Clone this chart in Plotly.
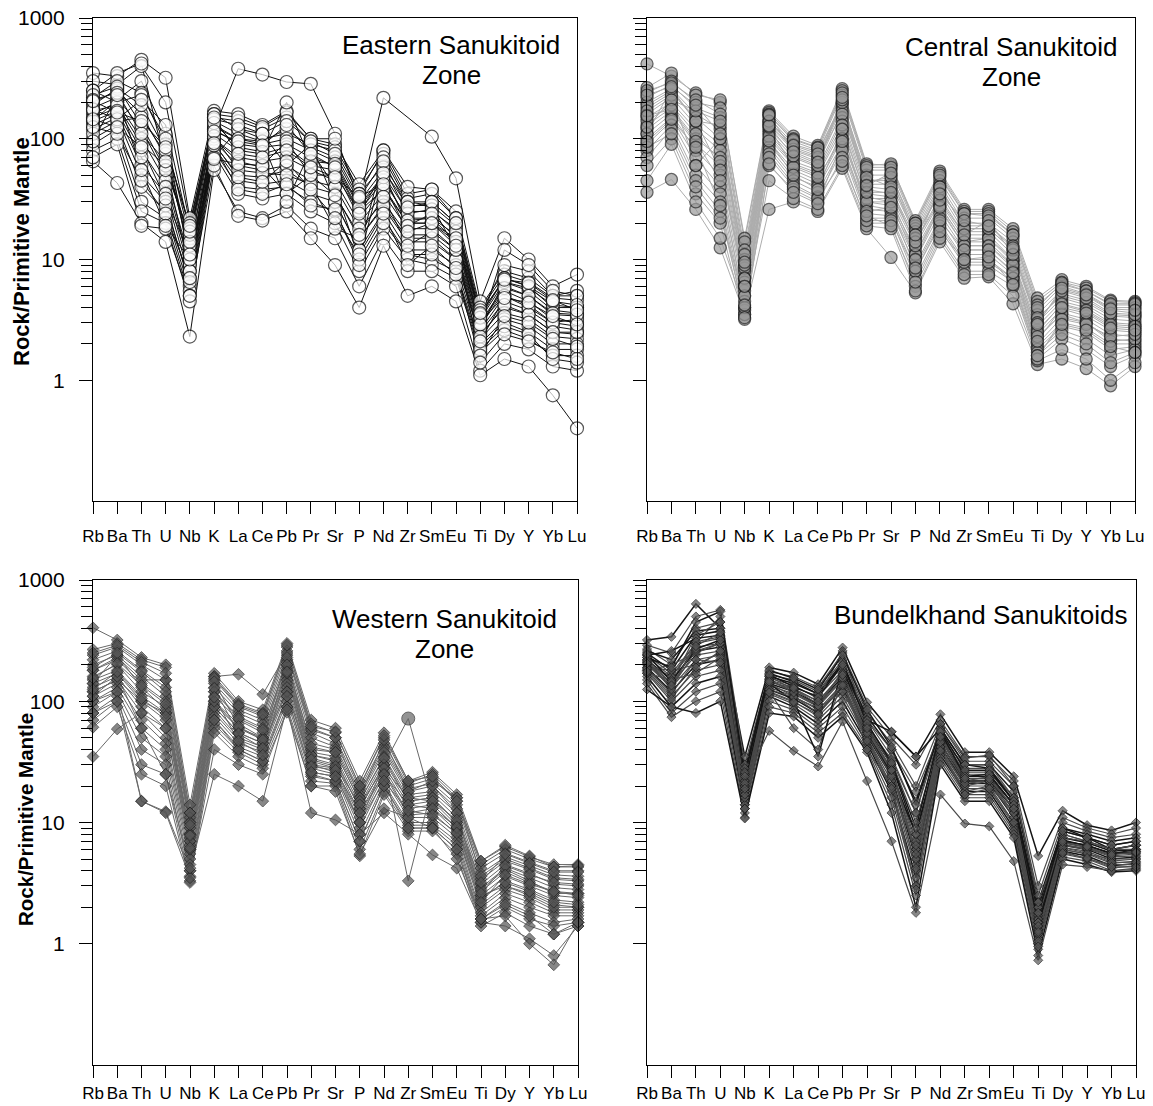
import plotly.graph_objects as go

elements = ["Rb", "Ba", "Th", "U", "Nb", "K", "La", "Ce", "Pb", "Pr", "Sr",
            "P", "Nd", "Zr", "Sm", "Eu", "Ti", "Dy", "Y", "Yb", "Lu"]

eastern = [
    [140, 210, 300, 110, 9, 120, 380, 340, 295, 285, 110, 30, 218, None, 104, 47, 4.5, 15, 10, 6, 7.5],
    [350, 330, 450, 320, 22, 170, 160, 130, 170, 100, 90, 42, 80, 35, 38, 25, 4, 8, 7, 5, 5],
    [300, 280, 400, 200, 20, 150, 140, 120, 150, 95, 85, 38, 75, 32, 35, 22, 3.8, 7.5, 6.5, 4.8, 4.6],
    [250, 350, 420, 60, 15, 160, 120, 100, 110, 90, 80, 35, 60, 30, 30, 20, 3.5, 7, 6, 4, 4],
    [220, 300, 240, 90, 18, 140, 110, 95, 120, 85, 70, 30, 55, 28, 28, 19, 3.2, 6.5, 5.5, 3.8, 3.6],
    [200, 250, 160, 70, 12, 130, 100, 90, 100, 80, 65, 28, 50, 25, 25, 18, 3, 6, 5, 3.5, 3.4],
    [180, 220, 120, 50, 10, 120, 90, 85, 90, 70, 60, 25, 45, 22, 22, 16, 2.8, 5.5, 4.5, 3.2, 3],
    [160, 200, 100, 45, 9, 110, 80, 75, 85, 60, 55, 22, 40, 20, 20, 14, 2.6, 5, 4.2, 3, 2.8],
    [150, 180, 80, 40, 8, 100, 70, 65, 70, 55, 45, 20, 35, 18, 18, 12, 2.5, 4.5, 3.8, 2.8, 2.6],
    [130, 160, 60, 35, 7, 95, 60, 55, 60, 45, 40, 18, 30, 16, 16, 11, 2.4, 4, 3.5, 2.5, 2.4],
    [120, 150, 50, 30, 6, 90, 50, 48, 55, 40, 35, 15, 27, 14, 14, 10, 2.2, 3.6, 3.2, 2.3, 2.2],
    [100, 130, 40, 25, 5.5, 85, 45, 42, 45, 35, 30, 12, 25, 12, 12, 9, 2, 3.2, 2.8, 2, 2],
    [90, 120, 30, 22, 5, 80, 40, 38, 40, 30, 25, 10, 22, 11, 10, 8, 1.9, 3, 2.5, 1.8, 1.8],
    [80, 100, 25, 20, 4.5, 75, 35, 32, 35, 25, 20, 8, 18, 10, 9, 7, 1.7, 2.6, 2.2, 1.6, 1.6],
    [65, 43, 20, 14, 2.3, 55, 25, 22, 28, 18, 15, 6, 15, 8, 8, 6, 1.2, 2, 1.8, 1.3, 1.2],
    [70, 90, 19, 18, 5, 60, 23, 21, 25, 15, 9, 4, 13, 5, 6, 4.5, 1.1, 1.5, 1.3, 0.75, 0.4],
    [250, 200, 230, 100, 15, 160, 150, 125, 165, 100, 100, 35, 80, 40, 38, 22, 3.5, 9, 8, 5, 5.5],
    [110, 140, 150, 75, 11, 70, 120, 110, 60, 90, 30, 12, 70, 30, 28, 12, 2.8, 12, 9, 5.5, 5],
    [190, 260, 190, 80, 13, 100, 65, 58, 35, 50, 50, 25, 38, 20, 20, 15, 3, 5, 4, 3, 3.2],
    [170, 190, 90, 60, 8, 125, 100, 95, 30, 80, 40, 10, 58, 24, 26, 17, 2.7, 6.5, 5.8, 4.2, 4],
    [230, 270, 130, 55, 16, 145, 130, 110, 140, 95, 75, 32, 65, 27, 30, 20, 3.3, 7, 6, 4.5, 4.2],
    [140, 170, 70, 28, 6.5, 105, 55, 52, 50, 42, 18, 15, 28, 15, 15, 10, 2.3, 4.2, 3.5, 2.5, 2.5],
    [210, 240, 110, 65, 14, 135, 85, 78, 200, 65, 62, 27, 48, 21, 22, 14, 2.9, 5.8, 5, 3.6, 3.5],
    [125, 110, 45, 24, 7, 88, 38, 35, 42, 28, 26, 9, 20, 11, 11, 7.5, 1.8, 2.8, 2.4, 1.5, 1.4],
    [175, 145, 210, 130, 17, 115, 95, 88, 130, 75, 58, 24, 52, 19, 24, 15, 3.6, 6.8, 6.4, 4.6, 3.8],
    [95, 230, 55, 19, 10, 68, 62, 60, 95, 50, 34, 16, 33, 13, 17, 12, 2.1, 4.8, 4.4, 3.4, 2.9],
    [205, 165, 140, 85, 19, 150, 75, 70, 80, 58, 48, 33, 42, 17, 20, 13, 1.6, 3.4, 3, 2.2, 1.9],
    [145, 125, 85, 32, 11, 92, 48, 44, 65, 38, 22, 11, 24, 9, 13, 8.5, 1.4, 2.4, 2.1, 1.7, 1.5],
]

central = [
    [417, 330, 240, 200, 15, 170, 105, 88, 260, 62, 60, 21, 54, 26, 26, 18, 4.8, 6.8, 6, 4.6, 4.5],
    [265, 350, 230, 210, 14, 165, 100, 85, 250, 60, 62, 20, 52, 25, 25, 17, 4.5, 6.5, 5.8, 4.5, 4.4],
    [240, 300, 200, 180, 12, 160, 95, 80, 230, 55, 55, 19, 48, 24, 24, 16, 4.2, 6.2, 5.5, 4.2, 4.2],
    [220, 280, 180, 150, 10, 150, 90, 78, 200, 50, 50, 18, 45, 22, 22, 15, 3.8, 6, 5.2, 4, 4],
    [200, 260, 160, 120, 9, 140, 85, 72, 190, 45, 45, 17, 42, 20, 20, 14, 3.5, 5.6, 5, 3.8, 3.6],
    [180, 240, 150, 100, 8, 130, 80, 68, 180, 42, 42, 16, 40, 18, 18, 12, 3.2, 5.2, 4.6, 3.5, 3.4],
    [160, 220, 130, 90, 7, 120, 75, 62, 170, 40, 38, 15, 36, 17, 17, 11, 3, 4.8, 4.2, 3.2, 3.1],
    [150, 200, 120, 80, 6.5, 115, 70, 58, 150, 38, 35, 14, 33, 16, 16, 10, 2.8, 4.5, 4, 3, 2.9],
    [130, 180, 100, 70, 6, 110, 65, 55, 140, 35, 33, 13, 30, 15, 15, 9.5, 2.6, 4.2, 3.7, 2.8, 2.7],
    [120, 170, 90, 60, 5.5, 100, 60, 50, 120, 33, 30, 12, 28, 14, 14, 9, 2.4, 3.9, 3.4, 2.6, 2.5],
    [110, 160, 80, 50, 5, 95, 55, 45, 110, 30, 28, 11, 26, 13, 13, 8.5, 2.2, 3.6, 3.2, 2.4, 2.3],
    [100, 150, 70, 40, 4.5, 90, 52, 42, 100, 28, 26, 10, 24, 12, 12, 8, 2, 3.3, 3, 2.2, 2.1],
    [90, 140, 60, 35, 4, 85, 48, 40, 90, 26, 25, 9, 22, 11, 11, 7.5, 1.9, 3, 2.7, 2, 2],
    [80, 130, 50, 30, 3.8, 80, 45, 36, 85, 24, 23, 8, 20, 10, 10, 7, 1.8, 2.8, 2.5, 1.8, 1.9],
    [70, 120, 45, 25, 3.5, 75, 42, 33, 80, 22, 22, 7, 18, 9, 9, 6.5, 1.7, 2.6, 2.2, 1.6, 1.8],
    [60, 100, 35, 20, 3.2, 60, 38, 30, 70, 20, 20, 6, 16, 8, 8, 6, 1.5, 2.2, 1.8, 1.3, 1.6],
    [36, 46, 26, 12.5, 3.5, 26, 30, 25, 57, 18, 10.4, 5.3, 14, 7, 7.2, 4.3, 1.35, 1.5, 1.25, 0.9, 1.3],
    [45, 90, 30, 15, 4, 45, 32, 26, 60, 19, 18, 5.5, 15, 7.5, 7.5, 5, 1.45, 1.8, 1.5, 1.0, 1.4],
    [250, 290, 210, 160, 11, 155, 98, 84, 240, 58, 58, 20, 50, 24, 23, 16, 4, 6.4, 5.5, 4.3, 4.3],
    [190, 250, 140, 130, 8.5, 135, 82, 70, 160, 44, 48, 15, 38, 19, 19, 13, 3.3, 5, 4.4, 3.4, 3.3],
    [140, 190, 110, 65, 6, 105, 62, 52, 130, 32, 32, 11, 28, 14, 15, 10, 2.5, 4.3, 3.8, 2.9, 2.8],
    [170, 230, 60, 100, 9, 125, 58, 48, 100, 30, 30, 10, 27, 13, 13, 9, 2.3, 3.5, 3, 2.1, 2.2],
    [110, 260, 140, 55, 7, 140, 88, 75, 200, 48, 40, 13, 40, 18, 18, 12, 3, 5.5, 4.8, 3.6, 3.5],
    [85, 110, 40, 22, 5, 70, 40, 32, 65, 21, 21, 8, 19, 9.5, 9.5, 7, 1.6, 2.4, 2, 1.4, 1.7],
    [125, 210, 170, 140, 6, 128, 72, 60, 210, 36, 36, 14, 31, 16, 21, 11, 1.5, 3.2, 2.9, 2.3, 2.4],
    [155, 175, 95, 45, 4.2, 96, 50, 38, 120, 25, 27, 8.5, 21, 12, 12, 7.8, 2.1, 4.0, 3.6, 2.7, 2.6],
    [230, 270, 190, 110, 9.5, 158, 78, 64, 220, 41, 52, 16, 35, 21, 19, 12.5, 2.9, 5.8, 5.1, 3.9, 3.8],
    [95, 145, 85, 28, 3.3, 62, 36, 29, 95, 23, 19, 6.5, 17, 10, 10.5, 6.2, 1.6, 2.9, 2.6, 1.9, 1.7],
]

western = [
    [404, 320, 230, 200, 14, 170, 100, 85, 300, 70, 60, 22, 55, 22, 26, 17, 4.8, 6.3, 5.2, 4.5, 4.5],
    [267, 300, 220, 190, 12, 160, 95, 80, 280, 65, 55, 20, 50, 21, 25, 16, 4.5, 6, 5, 4.3, 4.3],
    [240, 280, 200, 150, 11, 150, 90, 75, 260, 60, 50, 19, 45, 20, 23, 15, 4.2, 5.6, 4.7, 4, 4],
    [220, 260, 180, 130, 10, 140, 85, 70, 240, 55, 45, 18, 42, 19, 21, 14, 3.8, 5.2, 4.4, 3.7, 3.6],
    [200, 240, 160, 110, 9, 130, 80, 65, 220, 50, 42, 17, 40, 18, 20, 13, 3.4, 4.8, 4.1, 3.4, 3.3],
    [180, 220, 140, 100, 8, 120, 75, 60, 200, 45, 40, 16, 38, 17, 18, 12, 3.1, 4.5, 3.8, 3.1, 3],
    [160, 200, 120, 90, 7.5, 110, 70, 55, 190, 40, 38, 15, 35, 16, 17, 11, 2.9, 4.2, 3.5, 2.9, 2.8],
    [150, 180, 110, 80, 7, 100, 65, 50, 180, 38, 35, 14, 32, 15, 16, 10, 2.7, 3.9, 3.2, 2.7, 2.6],
    [140, 170, 100, 70, 6.5, 95, 60, 48, 160, 36, 32, 13, 30, 14, 15, 9.5, 2.5, 3.6, 3, 2.5, 2.4],
    [130, 160, 90, 60, 6, 90, 55, 45, 150, 34, 30, 12, 28, 13, 14, 9, 2.3, 3.3, 2.8, 2.3, 2.2],
    [120, 150, 80, 50, 5.5, 85, 50, 42, 140, 32, 28, 11, 26, 12, 13, 8.5, 2.1, 3, 2.6, 2.1, 2],
    [110, 140, 70, 45, 5, 80, 48, 40, 130, 30, 26, 10, 25, 11.5, 12, 8, 2, 2.8, 2.4, 1.9, 1.9],
    [100, 130, 60, 40, 4.5, 75, 45, 38, 120, 28, 25, 9, 23, 11, 11, 7.5, 1.8, 2.6, 2.2, 1.8, 1.8],
    [90, 120, 50, 35, 4, 70, 42, 35, 110, 26, 24, 8, 21, 10, 10, 7, 1.7, 2.4, 2, 1.7, 1.7],
    [80, 110, 40, 30, 3.6, 65, 40, 32, 100, 24, 22, 7, 20, 9.5, 9.5, 6.5, 1.6, 2.2, 1.8, 1.5, 1.6],
    [70, 100, 30, 25, 3.3, 60, 38, 30, 90, 22, 21, 6, 18, 9, 9, 6, 1.5, 2, 1.6, 1.4, 1.5],
    [61, 90, 25, 20, 3.2, 55, 35, 28, 81, 20, 20, 5.3, 17, 8.5, 8.5, 5.5, 1.4, 1.8, 1.4, 1.2, 1.4],
    [35, 59, 80, 60, 6, 90, 55, 45, 120, 30, 28, 10, 30, 3.3, 20, 12, 2.5, 3, 2.5, 2, 2],
    [120, 150, 100, 80, 7, 100, 60, 50, 170, 36, 33, 13, 30, 72, 14, 9, 2.4, 3.2, 2.7, 2.2, 2.1],
    [100, 120, 15, 12.3, 4, 25, 20, 15, 90, 12, 10.5, 8, 12, 8, 5.4, 4.2, 1.5, 1.4, 1.1, 0.8, 1.4],
    [80, 100, 15, 12, 3.5, 40, 30, 25, 85, 20, 18, 5.5, 13, 11, 9, 5, 1.6, 1.7, 1.0, 0.67, 1.5],
    [180, 230, 150, 150, 10, 160, 167, 114, 250, 58, 50, 16, 48, 18, 22, 16, 3.6, 5, 4.2, 3.5, 3.4],
    [250, 290, 210, 170, 12, 155, 92, 78, 290, 62, 56, 20, 52, 22, 24, 15, 4.8, 6.5, 5.3, 4.3, 4.4],
    [140, 240, 130, 85, 8, 120, 72, 58, 210, 42, 38, 15, 34, 15, 16, 10, 2.8, 4.1, 3.3, 2.6, 2.6],
    [110, 160, 60, 25, 4.2, 70, 40, 32, 110, 25, 22, 7, 20, 9, 9, 6, 1.6, 2.1, 1.7, 1.2, 1.5],
    [190, 250, 175, 120, 9.5, 145, 62, 48, 230, 33, 29, 14, 28, 16, 15, 10.5, 3.2, 5.5, 4.6, 3.9, 3.9],
    [155, 205, 135, 95, 7.8, 128, 54, 41, 200, 29, 27, 12, 25, 14, 13, 9.2, 2.6, 4.4, 3.7, 3.2, 3.1],
    [125, 175, 105, 75, 6.2, 108, 47, 36, 175, 26, 24, 10, 22, 12.5, 11.5, 8.2, 2.2, 3.7, 3.1, 2.7, 2.5],
]

bundelkhand = [
    [320, 340, 635, 400, 35, 190, 172, 138, 277, 98, 56, 35, 78, 38, 38, 24, 5.3, 12.5, 9.5, 8.6, 10],
    [290, 250, 500, 567, 30, 175, 160, 130, 250, 90, 50, 30, 70, 35, 35, 22, 3, 11, 9, 8, 9],
    [270, 200, 400, 450, 28, 165, 150, 120, 220, 80, 45, 20, 65, 32, 32, 20, 2.5, 10, 8.5, 7.5, 8],
    [250, 180, 350, 380, 25, 160, 140, 115, 200, 75, 40, 15, 60, 30, 30, 18, 2.2, 9, 8, 7, 7.5],
    [240, 170, 300, 330, 22, 150, 130, 110, 180, 70, 35, 12, 55, 28, 28, 16, 2, 8.5, 7.5, 6.5, 7],
    [230, 160, 280, 300, 20, 145, 125, 100, 170, 65, 32, 10, 52, 26, 26, 15, 1.8, 8, 7, 6, 6.5],
    [220, 150, 260, 280, 19, 140, 120, 95, 160, 60, 30, 8, 50, 24, 24, 14, 1.7, 7.5, 6.8, 5.8, 6],
    [210, 140, 240, 260, 18, 135, 115, 90, 150, 58, 28, 7, 48, 23, 23, 13, 1.6, 7, 6.5, 5.5, 5.8],
    [200, 130, 220, 240, 17, 130, 110, 85, 140, 55, 26, 6, 45, 22, 22, 12, 1.5, 6.8, 6.2, 5.3, 5.5],
    [190, 120, 200, 220, 16, 125, 105, 80, 130, 52, 24, 5, 42, 21, 21, 11, 1.4, 6.5, 6, 5, 5.2],
    [180, 110, 180, 200, 15, 120, 100, 75, 120, 50, 22, 4.5, 40, 20, 20, 10, 1.3, 6.2, 5.8, 4.8, 5],
    [170, 100, 160, 180, 14, 115, 95, 70, 110, 48, 20, 4, 38, 19, 19, 9.5, 1.2, 6, 5.5, 4.6, 4.8],
    [160, 90, 140, 160, 13, 110, 90, 65, 100, 45, 18, 3.5, 36, 18, 18, 9, 1.1, 5.8, 5.3, 4.4, 4.6],
    [150, 80, 120, 140, 12, 100, 85, 60, 90, 42, 16, 3, 34, 17, 17, 8.5, 1.0, 5.5, 5, 4.2, 4.4],
    [140, 74, 100, 120, 11, 90, 80, 55, 80, 40, 14, 2.5, 32, 16, 16, 8, 0.9, 5.2, 4.8, 4, 4.2],
    [125, 90, 80, 100, 10.8, 80, 75, 50, 75, 38, 12, 2, 30, 15, 15, 7.5, 0.8, 5, 4.5, 3.9, 4],
    [180, 200, 250, 300, 22, 57, 39, 29, 68, 22, 7, 1.8, 17, 9.8, 9.3, 4.8, 0.73, 4.5, 4.3, 4, 4.1],
    [200, 160, 300, 500, 25, 150, 120, 90, 180, 70, 40, 18, 55, 25, 25, 14, 1.6, 8, 7, 6, 6],
    [260, 220, 380, 400, 26, 170, 145, 115, 210, 70, 56, 35, 60, 30, 28, 15, 2, 9, 7.5, 6, 6.5],
    [220, 140, 350, 450, 20, 155, 135, 105, 260, 62, 33, 12, 65, 34, 36, 20, 2.2, 7.5, 7, 6, 6.5],
    [190, 180, 200, 250, 15, 120, 60, 40, 150, 40, 20, 6, 40, 18, 20, 12, 1.5, 6, 5.5, 5, 5],
    [240, 260, 330, 350, 18, 140, 100, 35, 190, 55, 25, 8, 45, 22, 22, 13, 1.5, 7, 6.5, 5.5, 6],
    [210, 130, 260, 300, 14, 160, 125, 95, 170, 62, 30, 5, 48, 30, 30, 16, 1.2, 6.5, 6, 5.5, 5.8],
    [170, 150, 170, 230, 13, 140, 110, 80, 140, 50, 20, 3, 42, 20, 22, 11, 1, 5.8, 5, 4.5, 4.5],
    [230, 190, 450, 550, 24, 180, 155, 125, 240, 85, 42, 14, 58, 27, 27, 15, 1.8, 8.5, 7.5, 6.5, 7],
    [185, 115, 220, 210, 16, 125, 108, 88, 120, 56, 27, 6.5, 50, 22, 24, 13, 1.3, 6.6, 6.1, 5.2, 5.3],
    [215, 125, 310, 340, 17, 150, 118, 92, 155, 54, 24, 4.2, 46, 21, 22, 12, 1.05, 6.2, 5.6, 4.7, 4.7],
    [245, 145, 270, 320, 21, 165, 132, 108, 200, 66, 31, 9, 56, 24, 25, 14, 1.4, 7.2, 6.4, 5.6, 5.6],
    [175, 105, 190, 260, 13, 118, 98, 78, 135, 47, 19, 2.8, 39, 17, 19, 10, 0.95, 5.6, 5.1, 4.3, 4.3],
    [205, 135, 285, 370, 19, 145, 128, 100, 165, 60, 27, 5.5, 51, 23, 23, 13, 1.25, 6.9, 6.3, 5.4, 5.7],
]

# index of the western sample whose Zr analysis is plotted as a circle
western_circle_sample = 18
western_circle_element = "Zr"

panel_titles = [
    ["Eastern Sanukitoid", "Zone"],
    ["Central Sanukitoid", "Zone"],
    ["Western Sanukitoid", "Zone"],
    ["Bundelkhand Sanukitoids"],
]

FONT = "Arial, Liberation Sans, Helvetica, sans-serif"
W, H = 1153, 1106

# pixel geometry of the four plot areas (left, right, top, bottom)
boxes = [
    (93, 577, 18, 501),
    (647, 1135, 18, 501),
    (93, 578, 580, 1065),
    (647, 1136, 580, 1065),
]
label_standoff = [7, 7, 0, 0]

fig = go.Figure()

styles = [
    dict(line_color="#111111", line_width=1.0, symbol="circle", size=13,
         fill="#ffffff", mline="#111111", mwidth=1.2),
    dict(line_color="#adadad", line_width=1.0, symbol="circle", size=12,
         fill="#9a9a9a", mline="#222222", mwidth=1.3),
    dict(line_color="#686868", line_width=1.0, symbol="diamond", size=9,
         fill="#555555", mline="#222222", mwidth=1.0),
    dict(line_color="#4a4a4a", line_width=1.2, symbol="diamond", size=7,
         fill="#555555", mline="#1a1a1a", mwidth=1.0),
]

datasets = [eastern, central, western, bundelkhand]

for p, (data, st) in enumerate(zip(datasets, styles)):
    ax = "" if p == 0 else str(p + 1)
    xa, ya = "x" + ax, "y" + ax
    # lines first
    for i, s in enumerate(data):
        lc = st["line_color"]
        lw = st["line_width"]
        if p == 3 and i % 3 == 0:
            lc, lw = "#151515", 1.5
        fig.add_trace(go.Scatter(
            x=elements, y=s, mode="lines", connectgaps=True,
            line=dict(color=lc, width=lw), hoverinfo="skip",
            showlegend=False, xaxis=xa, yaxis=ya, cliponaxis=False))
    # markers on top
    for i, s in enumerate(data):
        symbols = [st["symbol"]] * len(elements)
        sizes = [st["size"]] * len(elements)
        fills = [st["fill"]] * len(elements)
        if p == 2 and i == western_circle_sample:
            k = elements.index(western_circle_element)
            symbols[k] = "circle"
            sizes[k] = 13
            fills[k] = "#666666"
        fig.add_trace(go.Scatter(
            x=elements, y=s, mode="markers",
            marker=dict(symbol=symbols, size=sizes, color=fills,
                        line=dict(color=st["mline"], width=st["mwidth"])),
            hoverinfo="skip", showlegend=False, xaxis=xa, yaxis=ya,
            cliponaxis=False))

major = [1, 10, 100, 1000]
minor_vals = [m * d for d in (1, 10, 100) for m in range(2, 10)]

layout = dict(
    width=W, height=H, margin=dict(l=0, r=0, t=0, b=0, autoexpand=False),
    paper_bgcolor="white", plot_bgcolor="white",
    font=dict(family=FONT, color="black"),
    showlegend=False,
)

for p, (l, r, t, b) in enumerate(boxes):
    ax = "" if p == 0 else str(p + 1)
    layout["xaxis" + ax] = dict(
        domain=[l / W, r / W], anchor="y" + ax, automargin=False,
        type="category", categoryorder="array", categoryarray=elements,
        range=[0, len(elements) - 1],
        showgrid=False, zeroline=False,
        showline=True, mirror=True, linecolor="black", linewidth=1.2,
        ticks="outside", ticklen=12, tickwidth=1.2, tickcolor="black",
        tickangle=0,
        tickfont=dict(size=17, family=FONT, color="black"),
        ticklabelstandoff=label_standoff[p],
    )
    layout["yaxis" + ax] = dict(
        domain=[1 - b / H, 1 - t / H], anchor="x" + ax, automargin=False,
        type="log", range=[-1, 3],
        showgrid=False, zeroline=False,
        showline=True, mirror=True, linecolor="black", linewidth=1.2,
        tickmode="array", tickvals=major, ticktext=[str(v) for v in major],
        ticks="outside", ticklen=13, tickwidth=1.2, tickcolor="black",
        minor=dict(tickmode="array", tickvals=minor_vals, ticks="outside",
                   ticklen=11, tickwidth=1.1, tickcolor="black", showgrid=False),
        showticklabels=(p % 2 == 0),
        tickfont=dict(size=21, family=FONT, color="black"),
        ticklabelstandoff=10,
    )

fig.update_layout(**layout)

# panel titles
title_pos = [
    (451, [45, 75]),
    (1011, [47, 77]),
    (444, [619, 649]),
    (980, [615]),
]
for lines, (cx, ys) in zip(panel_titles, title_pos):
    for txt, cy in zip(lines, ys):
        fig.add_annotation(
            x=cx / W, y=1 - cy / H, xref="paper", yref="paper",
            text=txt, showarrow=False, xanchor="center", yanchor="middle",
            font=dict(size=26, family=FONT, color="black"))

# y-axis titles
for cx, cy, fs in ((21, 252, 22), (25, 820, 20.5)):
    fig.add_annotation(
        x=cx / W, y=1 - cy / H, xref="paper", yref="paper",
        text="<b>Rock/Primitive Mantle</b>", textangle=-90, showarrow=False,
        xanchor="center", yanchor="middle",
        font=dict(size=fs, family=FONT, color="black"))

fig.write_html("out.html")
